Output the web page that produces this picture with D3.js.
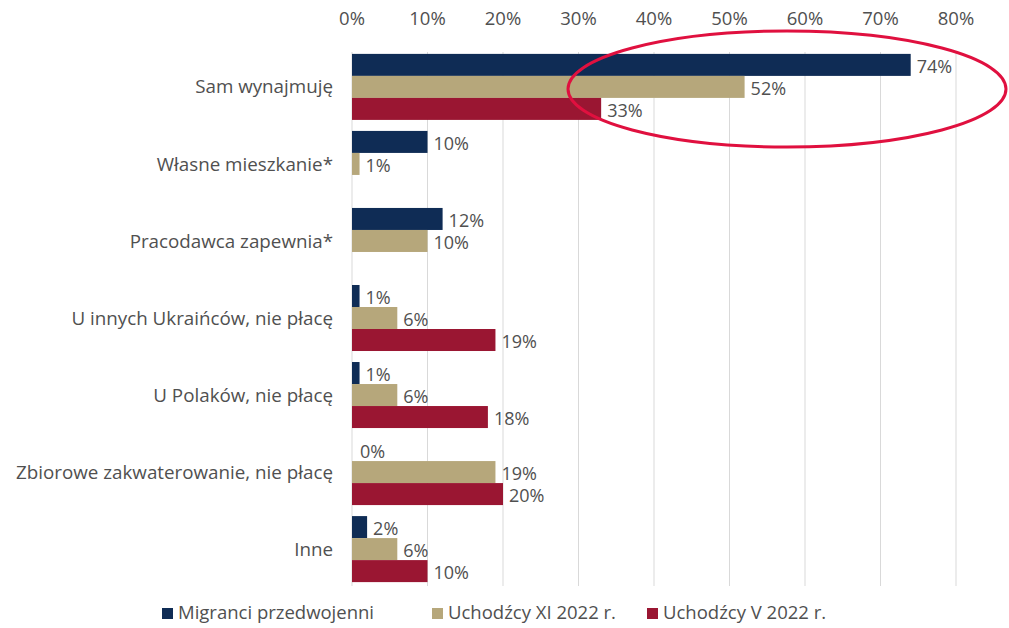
<!DOCTYPE html>
<html>
<head>
<meta charset="utf-8">
<script src="https://cdn.jsdelivr.net/npm/d3@7"></script>
<style>
  body { margin: 0; background: #fff; }
  svg text { font-family: "Open Sans", Lato, sans-serif; }
</style>
</head>
<body>
<svg width="1009" height="628"></svg>
<script>
const svg = d3.select("svg"),
      width = +svg.attr("width"),
      height = +svg.attr("height");

const categories = ["Sam wynajmuję", "Własne mieszkanie*", "Pracodawca zapewnia*",
  "U innych Ukraińców, nie płacę", "U Polaków, nie płacę",
  "Zbiorowe zakwaterowanie, nie płacę", "Inne"];
const seriesNames = ["Migranci przedwojenni", "Uchodźcy XI 2022 r.", "Uchodźcy V 2022 r."];
const migranci = [74, 10, 12, 1, 1, 0, 2];
const uchodzcyXI = [52, 1, 10, 6, 6, 19, 6];
const uchodzcyV = [33, null, null, 19, 18, 20, 10];
const ticks = [0, 10, 20, 30, 40, 50, 60, 70, 80];

const colors = {
  series: ["#0f2c55", "#b6a77b", "#9a1632"],
  grid: "#d9d9d9",
  text: "#505050",
  ring: "#e0103f"
}

const series = [migranci, uchodzcyXI, uchodzcyV];

const x = d3.scaleLinear().domain([0, 80]).range([352, 956]);
const y = d3.scaleBand().domain(categories).range([48.5, 587.5]).paddingInner(0.143).paddingOuter(0.07);
const ySub = d3.scaleBand().domain([0, 1, 2]).range([0, y.bandwidth()]);

// gridlines
svg.append("g").selectAll("line")
  .data(ticks).enter().append("line")
  .attr("x1", d => x(d)).attr("x2", d => x(d))
  .attr("y1", 52).attr("y2", 586)
  .attr("stroke", colors.grid).attr("stroke-width", 1);

// top axis labels
svg.append("g").selectAll("text")
  .data(ticks).enter().append("text")
  .attr("x", d => x(d)).attr("y", 25)
  .attr("text-anchor", "middle")
  .attr("font-size", 18.5).attr("fill", colors.text)
  .text(d => d + "%");

// category labels
svg.append("g").selectAll("text")
  .data(categories).enter().append("text")
  .attr("x", 333).attr("y", d => y(d) + y.bandwidth() / 2)
  .attr("dy", "0.35em")
  .attr("text-anchor", "end")
  .attr("font-size", 18.8).attr("fill", colors.text)
  .text(d => d);

// bars + value labels
series.forEach(function(vals, si) {
  const rows = vals.map((v, i) => ({cat: categories[i], v: v})).filter(d => d.v !== null);
  const g = svg.append("g");
  g.selectAll("rect").data(rows).enter().append("rect")
    .attr("x", x(0))
    .attr("y", d => y(d.cat) + ySub(si))
    .attr("width", d => x(d.v) - x(0))
    .attr("height", ySub.bandwidth())
    .attr("fill", colors.series[si]);
  g.selectAll("text").data(rows).enter().append("text")
    .attr("x", d => x(d.v) + (d.v === 0 ? 8 : 6))
    .attr("y", d => y(d.cat) + ySub(si) + ySub.bandwidth() / 2 + 2)
    .attr("dy", "0.35em")
    .attr("font-size", 18).attr("fill", colors.text)
    .text(d => d.v + "%");
});

// highlight ring
svg.append("ellipse")
  .attr("cx", 787).attr("cy", 89)
  .attr("rx", 219).attr("ry", 58)
  .attr("fill", "none")
  .attr("stroke", colors.ring).attr("stroke-width", 3);

// legend
const legendX = [162, 432, 647];
const legend = svg.append("g").selectAll("g")
  .data(seriesNames).enter().append("g")
  .attr("transform", (d, i) => `translate(${legendX[i]},613)`);
legend.append("rect")
  .attr("x", 0).attr("y", -5).attr("width", 11).attr("height", 11)
  .attr("fill", (d, i) => colors.series[i]);
legend.append("text")
  .attr("x", 16).attr("dy", "0.35em")
  .attr("font-size", 18.5).attr("fill", colors.text)
  .text(d => d);
</script>
</body>
</html>
